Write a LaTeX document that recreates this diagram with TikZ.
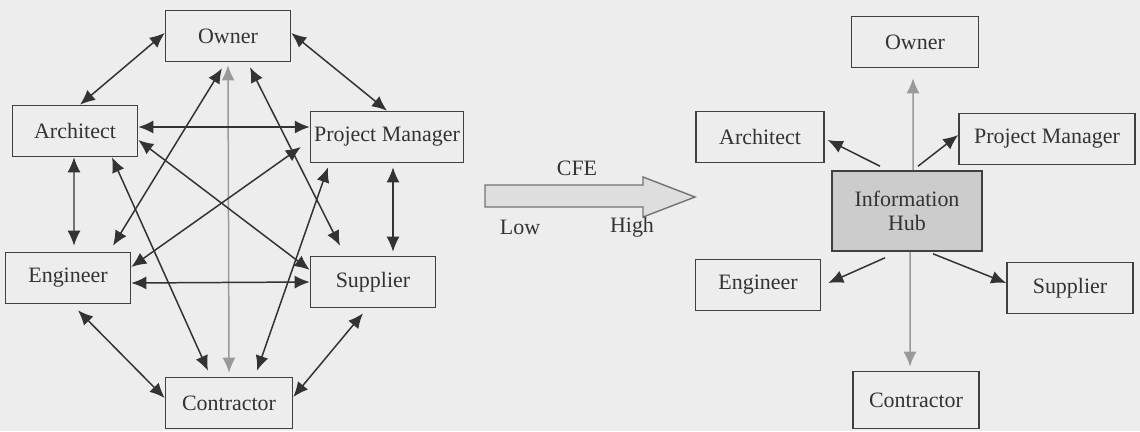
\documentclass[tikz,border=0pt]{standalone}
\usepackage{fontspec}
\setmainfont{Liberation Serif}
\usetikzlibrary{arrows.meta}

\begin{document}
\begin{tikzpicture}[
  box/.style={draw=black!75, line width=0.9pt, minimum width=2.5cm, minimum height=1.02cm,
    inner sep=2pt, font=\fontsize{12.5}{14}\selectfont, text=black!80},
  link/.style={{Latex[length=3mm,width=2.6mm]}-{Latex[length=3mm,width=2.6mm]},
    draw=black!80, line width=0.85pt},
  feed/.style={-{Latex[length=3mm,width=2.6mm]}, draw=black!80, line width=0.85pt},
  lbl/.style={font=\fontsize{12.5}{14}\selectfont, text=black!80}
]
% background, fixes the page size
\fill[black!7] (0,0) rectangle (22.8,8.62);

% low CFE: everybody talks to everybody
\node[box] (own) at (4.56,7.90) {Owner};
\node[box] (arc) at (1.50,6.00) {Architect};
\node[box, minimum width=3.04cm] (pm) at (7.74,5.88) {Project Manager};
\node[box] (eng) at (1.36,3.06) {Engineer};
\node[box] (sup) at (7.46,2.98) {Supplier};
\node[box, minimum width=2.54cm] (con) at (4.58,0.56) {Contractor};

\draw[link] ([yshift=0.06cm]own.west) -- ([xshift=0.1cm]arc.north);
\draw[link] ([yshift=0.06cm]own.east) -- (pm.north);
\draw[link] ([xshift=-0.12cm,yshift=-0.12cm]own.south) -- ([xshift=0.9cm,yshift=0.12cm]eng.north);
\draw[link, draw=black!40] ([yshift=-0.06cm]own.south) -- ([yshift=0.08cm]con.north);
\draw[link] ([xshift=0.44cm,yshift=-0.1cm]own.south) -- ([xshift=-0.66cm,yshift=0.2cm]sup.north);
\draw[link] ([yshift=0.08cm]arc.east) -- ([yshift=0.2cm]pm.west);
\draw[link] ([xshift=-0.02cm]arc.south) -- ([xshift=0.12cm,yshift=0.12cm]eng.north);
\draw[link] ([yshift=-0.18cm]arc.east) -- ([yshift=0.24cm]sup.west);
\draw[link] ([xshift=0.74cm]arc.south) -- ([xshift=-0.42cm,yshift=0.12cm]con.north);
\draw[link] ([xshift=-0.18cm,yshift=-0.2cm]pm.west) -- ([yshift=0.22cm]eng.east);
\draw[link] ([xshift=0.12cm,yshift=-0.08cm]pm.south) -- ([xshift=0.4cm,yshift=0.08cm]sup.north);
\draw[link] ([xshift=-1.18cm,yshift=-0.08cm]pm.south) -- ([xshift=0.56cm,yshift=0.12cm]con.north);
\draw[link] ([yshift=-0.1cm]eng.east) -- (sup.west);
\draw[link] ([xshift=0.2cm,yshift=-0.12cm]eng.south) -- ([yshift=0.1cm]con.west);
\draw[link] ([xshift=-0.2cm,yshift=-0.1cm]sup.south) -- ([yshift=0.12cm]con.east);

% CFE arrow
\draw[black!55, fill=black!13, line width=0.8pt]
  (9.70,4.92) -- (12.86,4.92) -- (12.86,5.08) -- (13.90,4.68)
  -- (12.86,4.28) -- (12.86,4.48) -- (9.70,4.48) -- cycle;
\node[lbl] (cfe) at (11.54,5.26) {CFE};
\node[lbl] (low) at (10.40,4.08) {Low};
\node[lbl] (high) at (12.64,4.08) {High};

% high CFE: one information hub
\node[box, fill=black!20, minimum width=3.0cm, minimum height=1.6cm, align=center]
  (hub) at (18.14,4.40) {Information\\Hub};
\node[box, minimum width=2.54cm] (rown) at (18.30,7.78) {Owner};
\node[box, minimum width=2.56cm] (rarc) at (15.20,5.88) {Architect};
\node[box, minimum width=3.52cm] (rpm) at (20.94,5.84) {Project Manager};
\node[box] (reng) at (15.16,2.92) {Engineer};
\node[box, minimum width=2.52cm] (rsup) at (21.40,2.86) {Supplier};
\node[box, minimum width=2.52cm, minimum height=1.14cm] (rcon) at (18.32,0.62) {Contractor};

\draw[feed, draw=black!40, shorten >=0.2cm] ([xshift=0.12cm]hub.north) -- ([xshift=-0.04cm]rown.south);
\draw[feed] ([xshift=-0.54cm,yshift=0.08cm]hub.north) -- ([xshift=0.06cm,yshift=-0.06cm]rarc.east);
\draw[feed] ([xshift=0.22cm,yshift=0.08cm]hub.north) -- ([yshift=0.08cm]rpm.west);
\draw[feed] ([xshift=-0.44cm,yshift=-0.12cm]hub.south) -- ([xshift=0.14cm,yshift=0.04cm]reng.east);
\draw[feed] ([xshift=0.52cm,yshift=-0.04cm]hub.south) -- ([yshift=0.1cm]rsup.west);
\draw[feed, draw=black!40, shorten >=0.08cm] ([xshift=0.06cm]hub.south) -- ([xshift=-0.12cm]rcon.north);
\end{tikzpicture}
\end{document}
